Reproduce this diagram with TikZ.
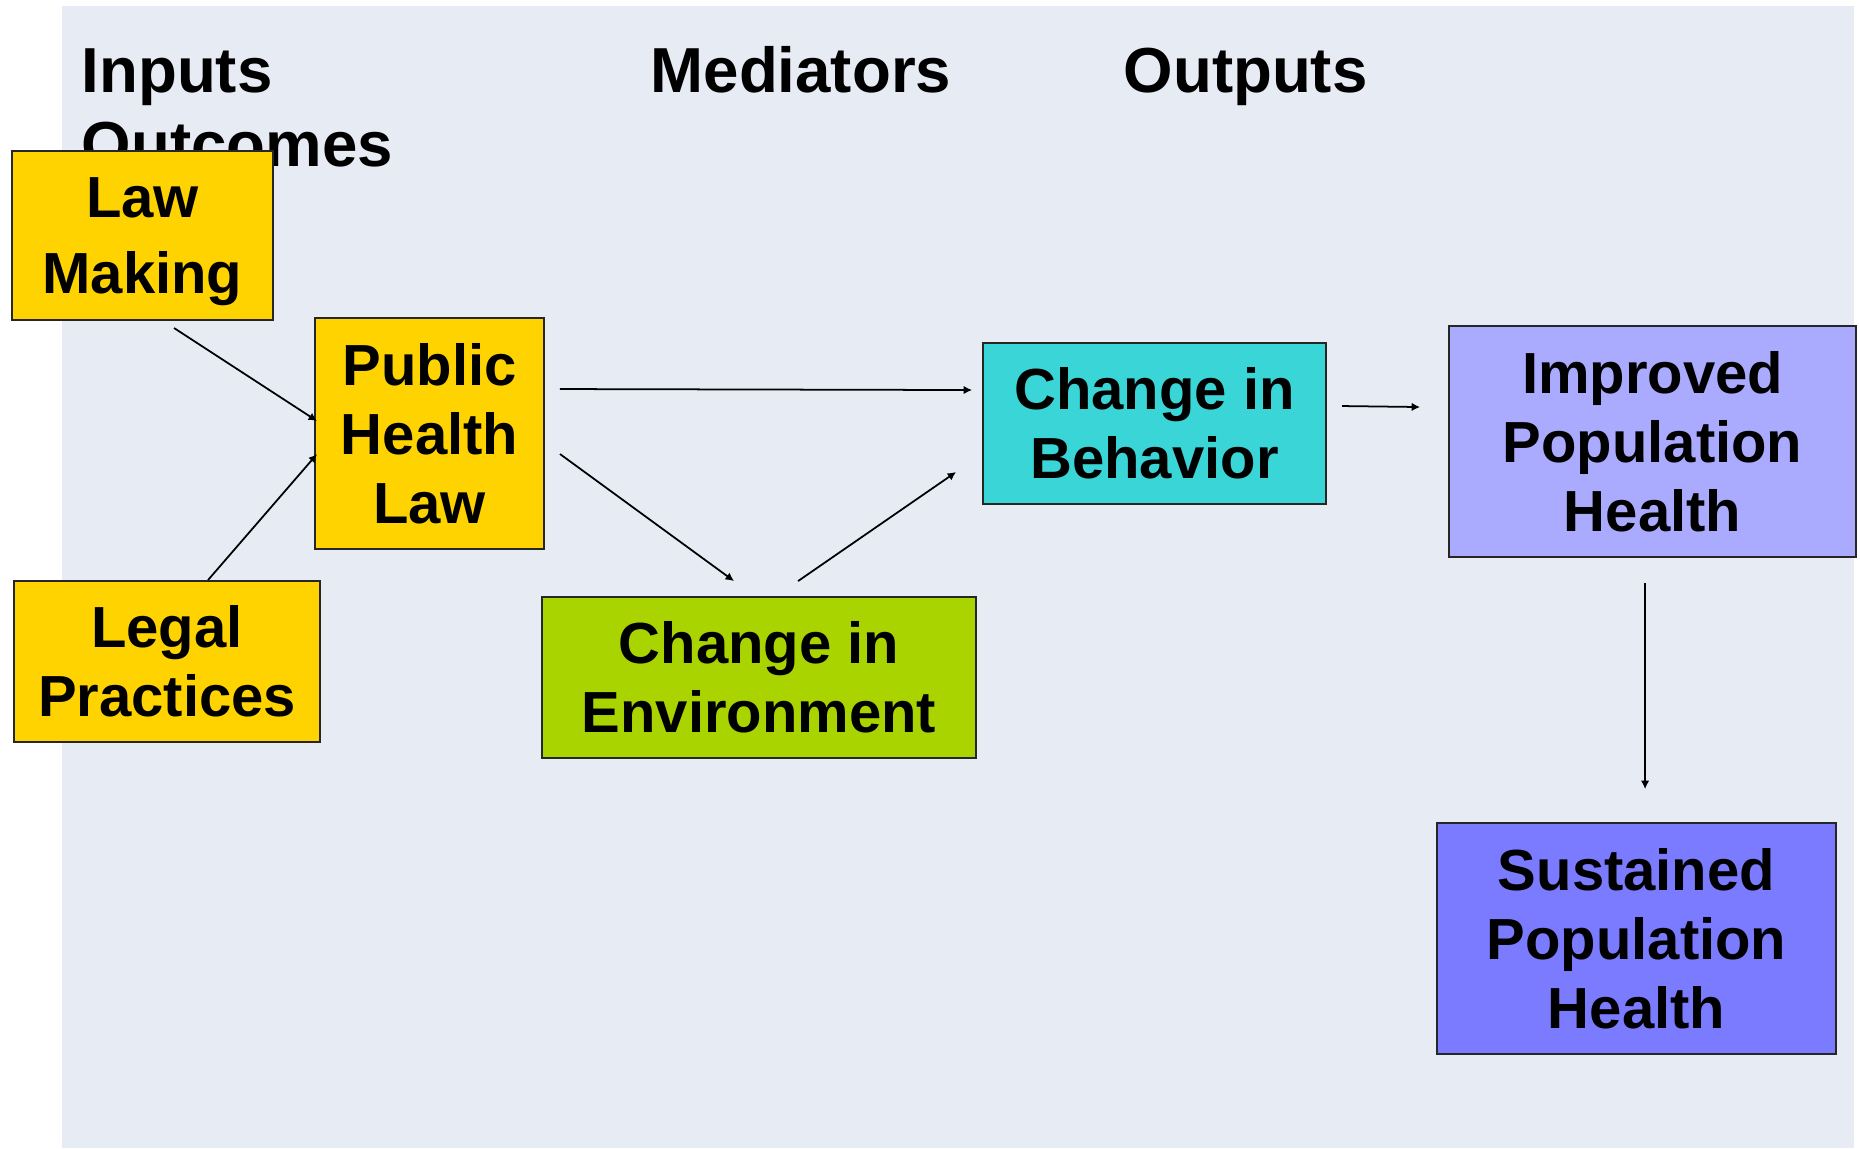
\documentclass[tikz,border=0pt]{standalone}
\usepackage{fontspec}
\setmainfont{Liberation Sans}
\usetikzlibrary{arrows.meta,calc}

\definecolor{slide}{HTML}{E7EBF4}
\definecolor{lawgold}{HTML}{FFD300}
\definecolor{envgreen}{HTML}{A9D400}
\definecolor{behcyan}{HTML}{3AD5D6}
\definecolor{imppurple}{HTML}{AAAAFF}
\definecolor{suspurple}{HTML}{7B7BFF}

\newcommand{\headfont}{\fontsize{18.1}{21}\selectfont\bfseries}
\newcommand{\boxfont}{\fontsize{16.5}{19.6}\selectfont\bfseries}

\begin{document}
\begin{tikzpicture}[scale=0.1]
    \tikzstyle{every node}+=[inner sep=0pt]
    \tikzstyle{stage}=[draw=black!85, line width=0.55pt, align=center, font=\boxfont]
    \tikzstyle{head}=[anchor=base west, font=\headfont]
    \tikzstyle{link}=[black, line width=0.5pt, -{Latex[length=2.4pt,width=2.4pt]}]
    \useasboundingbox (0,0) rectangle (186,-114.8);
    \fill [slide] (6.2,-0.6) rectangle (185.4,-114.8);
    % column heads
    \node [head] (hin) at (8.1,-9.25) {Inputs};
    \node [head] (hout) at (8.1,-16.6) {Outcomes};
    \node [head] (hmed) at (65.0,-9.25) {Mediators};
    \node [head] (hop) at (112.3,-9.25) {Outputs};
    % stages
    \node [stage, fill=lawgold, minimum width=26.1mm, minimum height=16.9mm, text depth=0pt,
        font=\fontsize{16.5}{21.5}\selectfont\bfseries] (law) at (14.25,-23.55) {Law\\Making};
    \node [stage, fill=lawgold, minimum width=22.9mm, minimum height=23.1mm] (phl) at (42.95,-43.35) {Public\\Health\\Law};
    \node [stage, fill=lawgold, minimum width=30.6mm, minimum height=16.1mm] (legal) at (16.7,-66.15) {Legal\\Practices};
    \node [stage, fill=envgreen, minimum width=43.4mm, minimum height=16.1mm] (env) at (75.9,-67.75) {Change in\\Environment};
    \node [stage, fill=behcyan, minimum width=34.3mm, minimum height=16.1mm] (beh) at (115.45,-42.35) {Change in\\Behavior};
    \node [stage, fill=imppurple, minimum width=40.7mm, minimum height=23.1mm] (imp) at (165.25,-44.15) {Improved\\Population\\Health};
    \node [stage, fill=suspurple, minimum width=39.9mm, minimum height=23.1mm] (sus) at (163.65,-93.85) {Sustained\\Population\\Health};
    % links
    \draw [link] ($(law.south)+(3.15,-0.7)$) -- ($(phl.west)+(0.3,1.25)$);
    \draw [link] ($(legal.north)+(4.1,0)$) -- ($(phl.west)+(0.3,-2.05)$);
    \draw [link] ($(phl.east)+(1.5,4.45)$) -- ($(beh.west)+(-1.0,3.35)$);
    \draw [link] ($(phl.east)+(1.5,-2.05)$) -- ($(env.north)+(-2.5,1.5)$);
    \draw [link] ($(env.north)+(3.9,1.5)$) -- ($(beh.south west)+(-2.6,3.3)$);
    \draw [link] ($(beh.east)+(1.5,1.75)$) -- ($(imp.west)+(-2.8,3.45)$);
    \draw [link] ($(imp.south)+(-0.75,-2.5)$) -- ($(sus.north)+(0.85,3.3)$);
\end{tikzpicture}
\end{document}
